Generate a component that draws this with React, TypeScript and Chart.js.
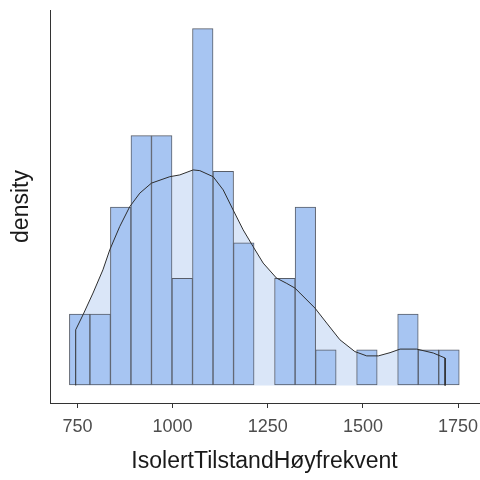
import React, { useEffect, useRef } from "react";
import { Chart, registerables } from "chart.js";

Chart.register(...registerables);

// Histogram bins: first lower edge and bin width, then counts per bin
const binStart = 729;
const binWidth = 53.9;
const counts = [2, 2, 5, 7, 7, 3, 10, 6, 4, 0, 3, 5, 1, 0, 1, 0, 2, 1, 1];

// Kernel density estimate, scaled to the count axis
const densityX = [
  745.5, 745.5, 764.7, 791, 817, 835, 861, 887.5, 914, 944.6, 992.7, 1019, 1054,
  1071.6, 1106.6, 1133, 1159, 1185.5, 1211.7, 1238, 1273, 1300, 1321.4, 1334.6,
  1374, 1404.8, 1439.7, 1479, 1510, 1540.5, 1571.3, 1597.6, 1641.5, 1685, 1716, 1716,
];
const densityY = [
  0, 1.56, 1.98, 2.59, 3.24, 3.8, 4.45, 5.01, 5.39, 5.67, 5.85, 5.9, 6.04, 6.02,
  5.85, 5.48, 4.92, 4.36, 3.89, 3.43, 3.01, 2.86, 2.73, 2.59, 2.17, 1.75, 1.28,
  0.95, 0.83, 0.83, 0.92, 1.02, 1.02, 0.91, 0.77, 0,
];

const xTicks = [750, 1000, 1250, 1500, 1750];
const xTitle = "IsolertTilstandHøyfrekvent";
const yTitle = "density";

const FONT = "'Liberation Sans', Arial, sans-serif";

export default function App() {
  const canvasRef = useRef<HTMLCanvasElement | null>(null);

  useEffect(() => {
    if (!canvasRef.current) return;

    const barPoints = counts
      .map((c, i) => ({ x: binStart + (i + 0.5) * binWidth, y: c }))
      .filter((p) => p.y > 0);
    const densityPoints = densityX.map((x, i) => ({ x, y: densityY[i] }));

    const chart = new Chart(canvasRef.current, {
      type: "bar",
      data: {
        datasets: [
          {
            type: "line",
            data: densityPoints,
            backgroundColor: "#dae6f8",
            borderWidth: 0,
            fill: "origin",
            pointRadius: 0,
            tension: 0,
            order: 3,
          } as any,
          {
            type: "bar",
            data: barPoints,
            backgroundColor: "#a7c5f2",
            borderColor: "#575d69",
            borderWidth: 1,
            borderSkipped: false,
            barPercentage: 1,
            categoryPercentage: 1,
            order: 2,
          } as any,
          {
            type: "line",
            data: densityPoints,
            borderColor: "#2e2e2e",
            borderWidth: 1,
            fill: false,
            pointRadius: 0,
            tension: 0,
            order: 1,
          } as any,
        ],
      },
      options: {
        responsive: false,
        animation: false,
        devicePixelRatio: 1,
        layout: { padding: { top: 10, right: 1, left: 0, bottom: 0 } },
        plugins: { legend: { display: false }, tooltip: { enabled: false } },
        scales: {
          x: {
            type: "linear",
            min: 678,
            max: 1805,
            offset: false,
            afterBuildTicks: (scale: any) => {
              scale.ticks = xTicks.map((v) => ({ value: v }));
            },
            afterFit: (scale: any) => {
              scale.height = 77;
              scale.paddingLeft = 0;
              scale.paddingRight = 0;
            },
            grid: {
              offset: false,
              drawOnChartArea: false,
              drawTicks: true,
              tickLength: 5,
              color: "#333333",
              lineWidth: 1,
            },
            border: { display: true, color: "#333333", width: 1 },
            ticks: {
              color: "#4d4d4d",
              font: { family: FONT, size: 18 },
              padding: 8,
              maxRotation: 0,
              autoSkip: false,
              callback: (v: any) => String(v),
            },
            title: {
              display: true,
              text: xTitle,
              color: "#1a1a1a",
              font: { family: FONT, size: 23, lineHeight: 1 },
              padding: { top: 0, bottom: 7 },
            },
          },
          y: {
            type: "linear",
            min: -0.49,
            max: 10.52,
            afterFit: (scale: any) => {
              scale.width = 50;
              scale.paddingTop = 0;
              scale.paddingBottom = 0;
            },
            grid: { drawOnChartArea: false, drawTicks: false },
            border: { display: true, color: "#333333", width: 1 },
            ticks: { display: false },
            title: {
              display: true,
              text: yTitle,
              color: "#1a1a1a",
              font: { family: FONT, size: 23, lineHeight: 1 },
              padding: { top: 10, bottom: 0 },
            },
          },
        },
      },
    });

    return () => chart.destroy();
  }, []);

  return (
    <div style={{ position: "absolute", left: 0, top: 0, width: 480, height: 480, background: "#ffffff" }}>
      <canvas ref={canvasRef} width={480} height={480} />
    </div>
  );
}
